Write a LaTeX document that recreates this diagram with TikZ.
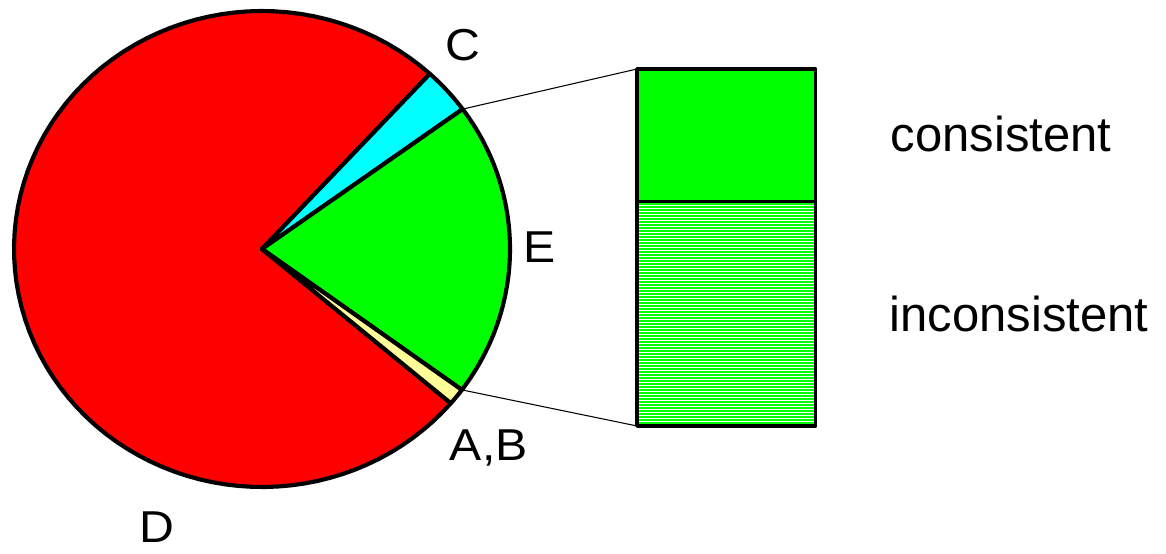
\documentclass[tikz,border=0pt]{standalone}
\usepackage{fontspec}
\setmainfont{Liberation Sans}
\definecolor{pred}{HTML}{FF0000}
\definecolor{pcyan}{HTML}{00FFFF}
\definecolor{pgreen}{HTML}{00FF00}
\definecolor{pyellow}{HTML}{FFFF99}
\begin{document}
\begin{tikzpicture}[x=0.75pt,y=-0.75pt,line join=round,
  sliceline/.style={draw=black,line width=3.1pt},
  boxstyle/.style={draw=black,line width=2.6pt,inner sep=0pt,outer sep=0pt,
    minimum width=134pt,anchor=north west},
  hatched/.style={fill=white,path picture={
    \foreach \k in {1,...,76}
      \draw[pgreen,line width=1.5pt]
        ([yshift=-\k*2.25pt+0.6pt]path picture bounding box.north west) --
        ([yshift=-\k*2.25pt+0.6pt]path picture bounding box.north east);}},
  connector/.style={draw=black,line width=0.8pt},
  pielabel/.style={inner sep=0pt,anchor=base,font=\fontsize{33.5}{40}\selectfont,xscale=1.08},
  sidelabel/.style={inner sep=0pt,anchor=base west,font=\fontsize{36.75}{44}\selectfont}]
\useasboundingbox (0,0) rectangle (1166,553);
\coordinate (O) at (262,249);
\newcommand\pieslice[3]{%
  \filldraw[sliceline,fill=#1] (O) -- plot[domain=#2:#3,samples=90]
    ({262+248*cos(\x)},{249-238*sin(\x)}) -- cycle;}
\pieslice{pred}{47.4}{319.6}
\pieslice{pcyan}{36}{47.4}
\pieslice{pgreen}{-36.3}{36}
\pieslice{pyellow}{-40.4}{-36.3}
\coordinate (eTop) at ({262+248*cos(36)},{249-238*sin(36)});
\coordinate (eBot) at ({262+248*cos(-36.3)},{249-238*sin(-36.3)});
% boxes
\node (cons) [boxstyle,fill=pgreen,minimum height=99.5pt] at (637,69) {};
\node (incons) [boxstyle,hatched,minimum height=168.2pt] at (637,201.7) {};
% connectors
\draw[connector] (eTop) -- (cons.north west);
\draw[connector] (eBot) -- (incons.south west);
% labels
\node (lC) [pielabel] at (463.3,60.3) {C};
\node (lE) [pielabel] at (539.7,262.7) {E};
\node (lAB) [pielabel] at (488.8,460.7) {A,B};
\node (lD) [pielabel] at (157,542) {D};
\node (lcons) [sidelabel] at (890.5,151.7) {consistent};
\node (lincons) [sidelabel] at (889.5,331) {inconsistent};
\end{tikzpicture}
\end{document}
